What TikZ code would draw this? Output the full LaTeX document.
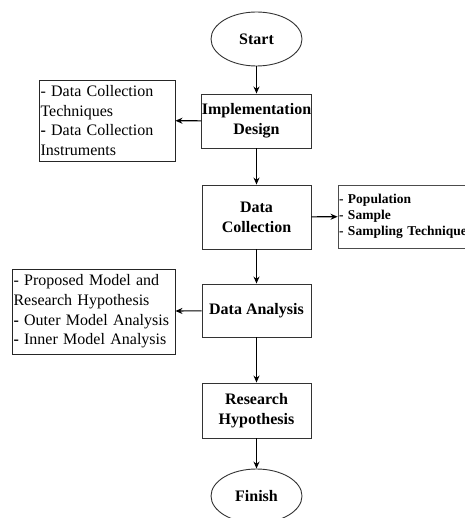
\documentclass[tikz,border=0pt]{standalone}
\usepackage{fontspec}
\setmainfont{Liberation Serif}
\usetikzlibrary{shapes.geometric,arrows.meta}
\begin{document}
\begin{tikzpicture}[x=1pt,y=-1pt,
  term/.style={ellipse,draw=black!80,line width=0.9pt,minimum width=91pt,minimum height=54pt,inner sep=0pt,font=\fontsize{16}{20}\selectfont\bfseries},
  stepbox/.style={rectangle,draw=black!80,line width=0.9pt,minimum width=109pt,inner sep=0pt,align=center,font=\fontsize{16}{20}\selectfont\bfseries},
  notebox/.style={rectangle,draw=black!85,line width=0.9pt,inner xsep=1.5pt,inner ysep=0pt,align=left,font=\fontsize{16}{19.6}\selectfont},
  rnote/.style={rectangle,draw=black!70,line width=0.9pt,inner xsep=1pt,inner ysep=0pt,align=left,font=\fontsize{13.5}{16.2}\selectfont\bfseries},
  arr/.style={-{Stealth[length=7pt,width=6pt]},line width=1.1pt,black}]
\useasboundingbox (0,0) rectangle (464,518);
\node[term] (start) at (256.5,39) {Start};
\node[stepbox,minimum height=54pt] (impl) at (256.5,121) {Implementation\\Design};
\node[stepbox,minimum height=64pt] (dc) at (256.5,217) {Data\\Collection};
\node[stepbox,minimum height=53pt] (da) at (256.5,310.5) {Data Analysis};
\node[stepbox,minimum height=55pt] (rh) at (256.5,410.5) {Research\\Hypothesis};
\node[term] (finish) at (256.5,496) {Finish};
\node[notebox,minimum width=136pt,minimum height=81pt,text width=133pt] (n1) at (107,120.5)
  {- Data Collection\\Techniques\\\textbf{-} Data Collection\\Instruments};
\node[notebox,minimum width=163pt,minimum height=85pt,text width=160pt,inner xsep=0.5pt] (n2) at (93.5,311.5)
  {- Proposed Model and\\Research Hypothesis\\\textbf{-} Outer Model Analysis\\\textbf{-} Inner Model Analysis};
\node[rnote,minimum width=140pt,minimum height=63pt,text width=138pt] (n3) at (408,216.5)
  {- Population\\- Sample\\- Sampling Technique};
\draw[arr] (start) -- (impl);
\draw[arr] (impl) -- (dc);
\draw[arr] (dc) -- (da);
\draw[arr] (da) -- (rh);
\draw[arr] (rh) -- (finish);
\draw[arr] (impl) -- (n1);
\draw[arr] (da) -- (n2);
\draw[arr] (dc) -- (n3);
\end{tikzpicture}
\end{document}
